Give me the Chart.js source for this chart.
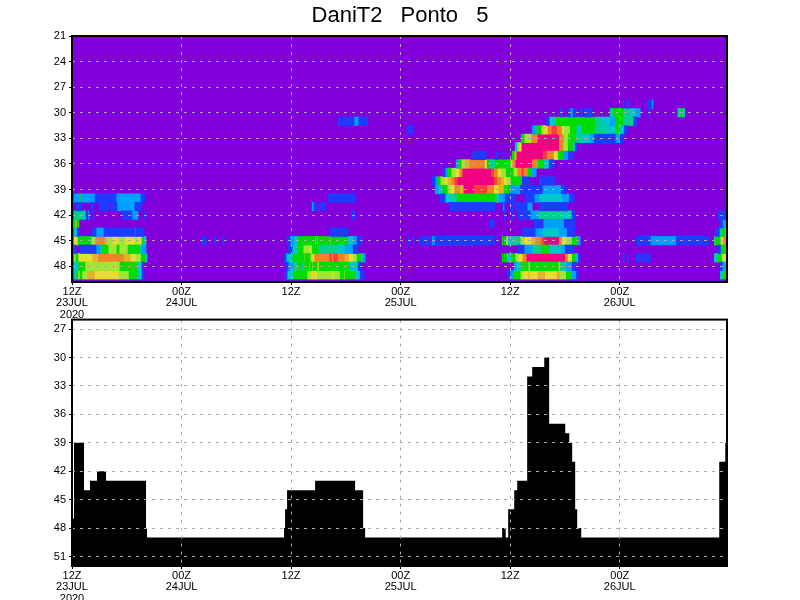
<!DOCTYPE html>
<html>
<head>
<meta charset="utf-8">
<title>DaniT2 Ponto 5</title>
<script src="https://cdn.jsdelivr.net/npm/chart.js@4/dist/chart.umd.min.js"></script>
<style>
  html, body { margin: 0; padding: 0; background: #fff; overflow: hidden; }
  #wrap { position: relative; width: 800px; height: 600px; }
  canvas { position: absolute; left: 0; }
  #heatChart { top: 0; }
  #depthChart { top: 310px; }
</style>
</head>
<body>
<div id="wrap">
  <canvas id="heatChart" width="800" height="318"></canvas>
  <canvas id="depthChart" width="800" height="290"></canvas>
</div>
<script>
// hours since 12Z 23JUL
const xTickLabels = [
  ['12Z', '23JUL', '2020'],
  ['00Z', '24JUL'],
  ['12Z'],
  ['00Z', '25JUL'],
  ['12Z'],
  ['00Z', '26JUL'],
];

// each run is [start hour, end hour, shade class], shade class 0 is the background
const run29 = [[60.38,60.49,1],[60.82,61.04,1],[63.05,63.49,1],[63.49,63.64,2]];
const run30 = [[53.48,53.70,1],[54.36,54.58,1],[54.58,54.90,2],[54.90,55.23,1],[55.67,55.89,1],[56.11,56.99,1],[58.96,59.18,3],[59.18,60.42,5],[60.42,61.15,4],[61.15,61.70,3],[61.70,62.25,2],[63.16,63.27,1],[66.37,66.56,3],[66.56,66.92,5],[66.92,67.11,3]];
const run31 = [[29.15,29.40,1],[29.60,30.90,1],[30.90,31.40,2],[31.40,32.40,1],[51.95,52.27,1],[52.27,52.93,3],[52.93,57.32,5],[57.32,58.08,4],[58.08,58.96,3],[58.96,59.51,2],[59.51,60.42,5],[60.42,61.52,4],[61.52,61.92,1]];
const run32 = [[36.71,37.37,1],[50.41,50.85,2],[50.85,51.40,5],[51.40,51.73,6],[51.73,52.06,7],[52.06,52.49,9],[52.49,53.15,10],[53.15,53.70,9],[53.70,53.92,7],[53.92,54.58,6],[54.58,55.31,5],[55.31,55.74,3],[55.74,57.32,5],[57.32,58.41,4],[58.41,59.51,3],[59.51,60.05,5],[60.05,60.49,3],[60.49,60.82,1]];
const run33 = [[49.21,49.53,5],[49.53,50.30,6],[50.30,50.96,9],[50.96,53.37,11],[53.37,53.92,9],[53.92,54.36,6],[54.36,54.47,5],[54.47,54.58,6],[54.58,55.23,5],[55.23,55.89,4],[55.89,56.77,3],[56.77,57.21,2],[57.21,59.51,1],[59.51,60.05,2],[60.05,60.38,1]];
const run34 = [[48.55,48.77,3],[48.77,48.99,6],[48.99,49.21,7],[49.21,53.37,11],[53.37,53.85,9],[53.85,54.36,6],[54.36,54.90,5],[54.90,55.12,3],[55.12,55.34,1]];
const run35 = [[43.73,43.84,1],[43.95,45.37,1],[46.36,46.68,1],[47.23,47.34,1],[48.22,48.44,5],[48.44,48.66,8],[48.66,51.62,11],[51.62,52.06,10],[52.06,52.82,9],[52.82,53.26,7],[53.26,53.81,5],[53.81,54.36,2],[54.36,54.58,1],[54.68,54.90,1]];
const run36 = [[42.08,42.30,2],[42.30,42.63,5],[42.63,43.07,6],[43.07,43.51,8],[43.51,45.26,9],[45.26,45.48,7],[45.48,45.70,5],[45.70,46.36,4],[46.36,48.00,5],[48.00,48.22,6],[48.22,48.55,9],[48.55,50.41,11],[50.41,51.07,9],[51.07,51.73,5],[51.73,52.27,3],[52.27,52.82,1]];
const run37 = [[40.66,40.88,1],[40.88,41.10,2],[41.10,41.53,5],[41.53,41.97,6],[41.97,42.41,7],[42.41,42.74,9],[42.74,45.92,11],[45.92,46.25,10],[46.25,46.68,9],[46.68,47.01,7],[47.01,47.56,6],[47.56,48.33,5],[48.33,48.77,6],[48.77,49.21,9],[49.21,49.53,10],[49.53,49.97,9],[49.97,50.41,5],[50.41,50.85,2]];
const run38 = [[39.45,39.78,1],[39.78,40.00,2],[40.00,40.33,5],[40.33,40.77,6],[40.77,41.10,7],[41.10,41.53,8],[41.53,41.86,9],[41.86,42.19,10],[42.19,46.25,11],[46.25,46.57,10],[46.57,47.01,9],[47.01,47.34,8],[47.34,47.67,7],[47.67,48.11,6],[48.11,49.32,5],[49.32,49.86,1],[49.97,50.08,1],[51.18,52.93,1]];
const run39 = [[39.78,40.11,2],[40.11,40.55,3],[40.55,41.10,5],[41.10,41.42,6],[41.42,41.86,7],[41.86,42.52,9],[42.52,42.85,8],[42.85,44.05,11],[44.05,45.48,10],[45.48,46.25,9],[46.25,46.68,7],[46.68,47.34,8],[47.34,47.89,5],[47.89,49.10,2],[49.10,51.51,1],[51.51,53.59,2],[53.59,54.14,1]];
const run40 = [[0.22,0.77,2],[0.77,0.99,5],[0.99,2.52,2],[2.52,4.82,1],[4.82,7.56,2],[7.56,8.00,1],[28.06,31.02,1],[40.33,40.88,1],[40.88,41.53,3],[41.53,42.19,4],[42.19,46.36,5],[46.36,46.79,4],[46.79,47.45,2],[47.45,48.33,1],[48.44,48.55,1],[49.64,50.63,1],[50.63,51.18,2],[51.18,53.70,3],[53.70,54.47,2],[54.47,55.01,1]];
const run41 = [[0.44,1.10,1],[2.08,2.41,1],[2.96,4.05,1],[4.27,4.93,1],[4.93,6.90,2],[6.90,7.67,1],[26.30,26.52,2],[26.52,26.85,1],[27.07,27.18,1],[27.29,27.73,1],[41.31,46.36,1],[47.12,47.20,1],[47.25,47.35,2],[47.40,47.45,1],[48.00,48.33,1],[48.55,49.86,1],[49.86,50.41,2],[51.18,54.25,1]];
const run42 = [[0.22,1.31,4],[1.31,1.53,3],[1.53,1.75,1],[1.75,1.86,2],[2.30,2.41,1],[5.48,6.57,1],[6.57,7.23,2],[7.89,8.00,1],[30.58,31.02,1],[47.34,47.45,1],[48.22,48.33,1],[48.88,50.19,1],[50.19,51.07,2],[51.07,53.81,4],[53.81,54.58,3],[54.58,54.79,5],[54.79,55.12,1],[70.80,71.75,1]];
const run43 = [[0.11,0.33,5],[0.33,0.55,8],[0.55,0.77,5],[45.70,46.25,1],[50.63,51.29,1],[51.40,51.62,1],[51.62,53.92,2],[53.92,55.12,1],[71.02,71.24,1],[71.24,71.75,2]];
const run44 = [[0.22,0.55,3],[0.55,0.77,1],[2.19,2.63,1],[2.63,3.51,2],[3.51,6.90,1],[6.90,7.01,2],[7.01,7.89,1],[28.28,30.25,1],[49.32,50.74,1],[50.74,51.51,2],[51.51,53.37,3],[53.37,54.25,2],[54.25,55.12,1],[70.47,70.91,1],[70.91,71.13,3],[71.13,71.57,5],[71.57,71.75,6]];
const run45 = [[0.22,0.66,7],[0.66,2.08,5],[2.08,2.52,6],[2.52,3.62,9],[3.62,3.84,8],[3.84,4.38,6],[4.38,5.15,7],[5.15,5.81,6],[5.81,6.90,7],[6.90,7.12,6],[7.12,7.67,7],[7.67,7.89,5],[7.89,8.11,3],[14.25,14.40,1],[14.50,14.70,1],[15.60,15.75,1],[16.50,16.65,1],[23.56,23.89,1],[23.89,24.33,2],[24.33,24.66,3],[24.66,26.63,5],[26.63,26.74,6],[26.74,26.85,5],[26.85,26.96,6],[26.96,28.28,5],[28.28,28.38,6],[28.38,30.25,5],[30.25,30.80,3],[30.80,31.23,2],[31.23,31.78,1],[36.82,36.93,1],[37.37,37.48,1],[38.03,38.25,1],[38.36,38.58,1],[38.68,39.23,1],[39.45,39.56,2],[39.67,39.78,2],[39.78,46.25,1],[40.00,40.11,3],[40.33,40.44,2],[40.66,40.77,3],[40.88,41.00,2],[41.31,41.42,3],[41.53,41.64,3],[41.86,41.97,2],[42.19,42.30,3],[42.52,42.63,3],[42.85,42.96,4],[43.07,43.18,3],[43.40,43.51,3],[43.70,43.90,4],[46.57,46.68,1],[47.12,47.23,5],[47.34,47.45,5],[47.56,47.78,6],[47.78,48.33,3],[48.33,49.10,4],[49.10,49.53,6],[49.53,50.30,7],[50.30,50.74,8],[50.74,51.40,9],[51.40,51.73,10],[51.73,53.37,11],[53.37,53.70,9],[53.70,54.14,7],[54.14,54.79,6],[54.79,55.45,5],[55.45,55.67,2],[61.81,63.34,1],[63.34,66.19,2],[66.19,69.81,1],[70.36,70.47,4],[70.47,71.02,5],[71.02,71.24,7],[71.24,71.35,8],[71.35,71.75,9]];
const run46 = [[0.22,0.44,1],[0.88,2.63,1],[2.63,3.07,2],[3.07,3.18,3],[3.18,3.95,5],[3.95,4.93,6],[4.93,5.15,5],[5.15,6.14,6],[6.14,7.45,5],[7.45,7.67,4],[7.67,8.11,2],[23.67,24.11,1],[24.11,24.66,3],[24.66,25.32,5],[25.32,26.08,6],[26.08,26.30,7],[26.30,27.07,5],[27.07,27.18,3],[27.18,29.04,4],[29.04,29.92,3],[29.92,30.80,2],[30.80,31.34,1],[48.88,49.53,1],[49.53,50.41,2],[50.41,51.40,4],[51.40,52.27,5],[52.27,53.59,3],[53.59,54.03,2],[54.03,54.90,1],[70.80,71.02,1],[71.02,71.13,2],[71.13,71.75,5]];
const run47 = [[0.22,0.44,6],[0.44,0.66,5],[0.66,2.19,7],[2.19,2.85,8],[2.85,5.70,9],[5.70,6.47,8],[6.47,7.01,7],[7.01,7.34,6],[7.34,7.56,7],[7.56,8.11,5],[8.11,8.22,3],[23.23,23.45,1],[23.45,24.11,3],[24.11,25.43,5],[25.43,25.54,6],[25.54,26.08,5],[26.08,26.30,6],[26.30,26.52,7],[26.52,28.17,9],[28.17,28.49,10],[28.49,28.60,9],[28.60,29.15,10],[29.15,29.92,9],[29.92,30.36,8],[30.36,30.80,7],[30.80,31.23,6],[31.23,31.67,5],[31.67,31.89,4],[31.89,32.11,2],[47.12,47.23,5],[47.34,47.45,5],[47.56,47.67,5],[47.67,48.11,3],[48.11,48.55,5],[48.55,48.88,6],[48.88,49.32,7],[49.32,49.75,9],[49.75,54.03,11],[54.03,54.36,9],[54.36,54.79,7],[54.79,55.23,5],[55.23,55.45,3],[55.45,55.67,1],[60.38,60.49,1],[60.82,60.93,1],[61.81,62.25,1],[62.36,62.68,1],[62.79,63.01,1],[63.12,63.34,1],[70.36,70.69,3],[70.69,71.13,5],[71.13,71.35,6],[71.35,71.75,7]];
const run48 = [[0.22,0.66,3],[0.66,1.42,5],[1.42,4.40,6],[4.40,4.50,7],[4.50,4.70,6],[4.70,4.80,7],[4.80,5.26,6],[5.26,7.23,5],[7.23,7.67,3],[7.67,7.82,1],[23.45,23.67,1],[23.67,24.22,2],[24.22,24.66,4],[24.66,25.21,5],[25.21,25.32,3],[25.32,25.97,5],[25.97,26.08,6],[26.08,26.30,5],[26.30,26.41,6],[26.41,26.85,5],[26.85,27.07,6],[27.07,30.47,5],[30.47,31.34,3],[31.34,31.67,1],[48.44,48.66,2],[48.66,49.10,3],[49.10,49.97,5],[49.97,50.19,6],[50.19,53.26,5],[53.26,53.48,6],[53.48,54.14,4],[54.14,54.79,2],[54.79,55.23,1],[71.02,71.24,1],[71.24,71.75,2]];
const run49 = [[0.22,0.44,3],[0.44,0.66,5],[0.66,0.88,6],[0.88,1.10,5],[1.10,1.64,6],[1.64,2.52,8],[2.52,5.15,7],[5.15,6.25,6],[6.25,7.23,5],[7.23,7.67,3],[7.67,7.89,1],[23.34,23.56,1],[23.56,24.22,3],[24.22,25.75,5],[25.75,26.19,6],[26.19,26.41,7],[26.41,26.52,8],[26.52,26.85,7],[26.85,28.49,6],[28.49,28.71,7],[28.71,29.37,6],[29.37,29.81,5],[29.81,29.92,7],[29.92,31.02,5],[31.02,31.56,3],[31.56,32.00,1],[47.67,48.00,1],[48.00,48.33,2],[48.33,49.10,5],[49.10,49.32,6],[49.32,49.97,7],[49.97,50.19,8],[50.19,50.96,7],[50.96,51.84,8],[51.84,53.04,7],[53.04,53.48,8],[53.48,54.14,6],[54.14,54.79,5],[54.79,55.23,2],[55.23,55.45,1],[71.02,71.24,3],[71.24,71.75,5]];

const heatLevels = [29, 30, 31, 32, 33, 34, 35, 36, 37, 38, 39, 40, 41, 42, 43, 44, 45, 46, 47, 48, 49];
const heatRuns = [run29, run30, run31, run32, run33, run34, run35, run36, run37, run38, run39, run40, run41, run42, run43, run44, run45, run46, run47, run48, run49];

// lower panel: level of the step that starts at each hour
const depthHours = [0, 0.22, 1.32, 1.97, 2.74, 3.73, 8.11, 8.22, 23.23, 23.34, 23.56, 26.63, 31.01, 31.89, 32.11, 47.12, 47.51, 47.78, 48.44, 48.77, 49.86, 50.41, 51.73, 52.27, 54.03, 54.47, 54.79, 55.12, 55.34, 55.78, 70.90, 71.56, 71.75];
const depthLevels = [47, 39, 44, 43, 42, 43, 48, 49, 48, 46, 44, 43, 44, 48, 49, 48, 49, 46, 44, 43, 32, 31, 30, 37, 38, 39, 41, 46, 48, 49, 41, 39, 39];

const PURPLE = 'rgb(130,0,220)';
const GRID = 'rgb(170,170,170)';
const FONT = '"Liberation Sans", Arial, sans-serif';
const shadeColors = [
  PURPLE,
  'rgb(30,60,255)',
  'rgb(0,160,255)',
  'rgb(0,200,200)',
  'rgb(0,210,140)',
  'rgb(0,220,0)',
  'rgb(160,230,50)',
  'rgb(230,220,50)',
  'rgb(230,175,45)',
  'rgb(240,130,40)',
  'rgb(250,60,60)',
  'rgb(240,0,130)',
];

function buildHeatDatasets() {
  return shadeColors.map((color, shade) => {
    const data = [];
    heatRuns.forEach((runs, i) => {
      runs.filter((run) => run[2] === shade).forEach((run) => {
        data.push({ x: [run[0], run[1]], y: heatLevels[i] });
      });
    });
    return {
      data,
      backgroundColor: color,
      borderWidth: 0,
      barPercentage: 1,
      categoryPercentage: 1,
      grouped: false,
    };
  }).filter((set) => set.data.length);
}

function framePlugin(fill) {
  return {
    id: 'frame',
    afterLayout(chart) {
      // the title centres on the page, not on the plot
      if (chart.titleBlock) chart.titleBlock.right = chart.width;
    },
    beforeDraw(chart) {
      chart.ctx.wordSpacing = '12px';
    },
    beforeDatasetsDraw(chart) {
      const { ctx, chartArea: a } = chart;
      if (fill) {
        ctx.save();
        ctx.fillStyle = fill;
        ctx.fillRect(a.left, a.top, a.width, a.height);
        ctx.restore();
      }
    },
    afterDraw(chart) {
      const { ctx, chartArea: a } = chart;
      ctx.save();
      ctx.strokeStyle = '#000';
      ctx.lineWidth = 2;
      ctx.strokeRect(a.left, a.top, a.width, a.height);
      ctx.restore();
    },
  };
}

function xAxis(height) {
  return {
    type: 'linear',
    min: 0,
    max: 71.75,
    afterFit: (scale) => { scale.height = height; },
    grid: { color: GRID, z: 1, tickLength: 3, tickColor: '#000' },
    border: { display: false, dash: [3, 5] },
    ticks: {
      stepSize: 12,
      includeBounds: false,
      autoSkip: false,
      maxRotation: 0,
      padding: 1,
      color: '#000',
      font: { family: FONT, size: 11, lineHeight: 1.05 },
      callback: (value, index) => xTickLabels[index],
    },
  };
}

function yAxis(min, max) {
  return {
    type: 'linear',
    reverse: true,
    offset: false,
    min,
    max,
    afterFit: (scale) => { scale.width = 72; },
    grid: { color: GRID, z: 1, offset: false, tickLength: 3, tickColor: '#000' },
    border: { display: false, dash: [3, 5] },
    ticks: {
      stepSize: 3,
      includeBounds: false,
      autoSkip: false,
      padding: 3,
      color: '#000',
      font: { family: FONT, size: 11 },
    },
  };
}

new Chart(document.getElementById('heatChart'), {
  type: 'bar',
  data: { datasets: buildHeatDatasets() },
  plugins: [framePlugin(PURPLE)],
  options: {
    indexAxis: 'y',
    responsive: false,
    animation: false,
    layout: { padding: { right: 73 } },
    scales: { x: xAxis(36), y: yAxis(21, 49.84) },
    plugins: {
      legend: { display: false },
      tooltip: { enabled: false },
      title: {
        display: true,
        text: 'DaniT2 Ponto 5',
        color: '#000',
        padding: { top: 3, bottom: 6.6 },
        font: { family: FONT, size: 22, weight: 'normal', lineHeight: 1.2 },
      },
    },
  },
});

new Chart(document.getElementById('depthChart'), {
  type: 'line',
  data: {
    datasets: [{
      data: depthHours.map((hour, i) => ({ x: hour, y: depthLevels[i] })),
      stepped: 'before',
      borderWidth: 0,
      pointRadius: 0,
      backgroundColor: '#000',
      fill: { value: 52 },
    }],
  },
  plugins: [framePlugin(null)],
  options: {
    responsive: false,
    animation: false,
    layout: { padding: { top: 8, right: 73 } },
    scales: { x: xAxis(34), y: yAxis(26, 52) },
    plugins: {
      legend: { display: false },
      tooltip: { enabled: false },
    },
  },
});
</script>
</body>
</html>
